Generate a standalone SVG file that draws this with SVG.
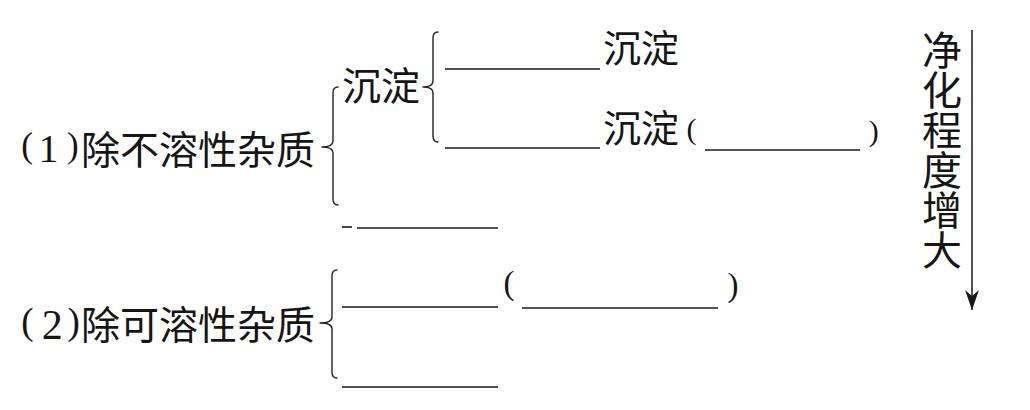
<svg xmlns="http://www.w3.org/2000/svg" width="1030" height="410" viewBox="0 0 1030 410">
<defs>
<style>
.cjk{font-family:"Noto Sans CJK SC","Noto Sans",sans-serif;fill:#151515;}
.lat{font-family:"Liberation Serif",serif;fill:#151515;}
.blank{stroke:#1a1a1a;stroke-width:1.6;fill:none;}
.brace{stroke:#222;stroke-width:1.4;fill:none;stroke-linejoin:round;stroke-linecap:round;}
.arrow{stroke:#1a1a1a;stroke-width:1.5;fill:none;}
.vert{writing-mode:vertical-rl;text-orientation:upright;}
</style>
<marker id="ah" viewBox="0 0 20 14" refX="20" refY="7" markerWidth="20" markerHeight="14" markerUnits="userSpaceOnUse" orient="auto">
<path d="M20,7 L0,0 L6,7 L0,14 Z" fill="#1a1a1a"/>
</marker>
</defs>
<rect width="1030" height="410" fill="#ffffff"/>

<g id="node-insoluble">
<text class="lat" x="21.3" y="157" font-size="35">(</text>
<text class="lat" x="38.6" y="162" font-size="40">1</text>
<text class="lat" x="67" y="157" font-size="35">)</text>
<text class="cjk" x="81" y="164" font-size="39">除不溶性杂质</text>
</g>

<g id="node-sediment">
<text class="cjk" x="342" y="100" font-size="39">沉淀</text>
</g>

<g id="node-sediment-a">
<line class="blank" x1="445" y1="69" x2="600" y2="69"/>
<text class="cjk" x="603" y="62" font-size="38">沉淀</text>
</g>

<g id="node-sediment-b">
<line class="blank" x1="445" y1="148" x2="600" y2="148"/>
<text class="cjk" x="603" y="142" font-size="38">沉淀</text>
<text class="lat" x="686.6" y="139" font-size="30">(</text>
<line class="blank" x1="705" y1="150" x2="860" y2="150"/>
<text class="lat" x="868.7" y="141" font-size="30">)</text>
</g>

<g id="node-step2">
<line class="blank" x1="342" y1="227" x2="352" y2="227"/>
<line class="blank" x1="357" y1="228" x2="498" y2="228"/>
</g>

<g id="node-soluble">
<text class="lat" x="21.2" y="333.5" font-size="37">(</text>
<text class="lat" x="41.7" y="339" font-size="42">2</text>
<text class="lat" x="67.5" y="333.5" font-size="37">)</text>
<text class="cjk" x="81" y="339" font-size="39">除可溶性杂质</text>
</g>

<g id="node-soluble-a">
<line class="blank" x1="342" y1="307" x2="498" y2="307"/>
<text class="lat" x="503.4" y="294" font-size="33">(</text>
<line class="blank" x1="522" y1="308" x2="718" y2="308"/>
<text class="lat" x="727.6" y="296" font-size="33">)</text>
</g>

<g id="node-soluble-b">
<line class="blank" x1="342" y1="387" x2="498" y2="387"/>
</g>

<g id="node-purity">
<text class="cjk vert" x="942" y="30" font-size="40">净化程度增大</text>
</g>

<g id="connectors">
<path class="brace" d="M338,87 Q333,87 333,93 L333,141 Q333,147 322,147 Q333,147 333,153 L333,199 Q333,205 338,205"/>
<path class="brace" d="M438,32 Q433,32 433,38 L433,81 Q433,87 423,87 Q433,87 433,93 L433,136 Q433,142 438,142"/>
<path class="brace" d="M337,270 Q332,270 332,276 L332,317 Q332,323 320,323 Q332,323 332,329 L332,372 Q332,378 337,378"/>
<line class="arrow" x1="972" y1="30" x2="972" y2="310" marker-end="url(#ah)"/>
</g>
</svg>
